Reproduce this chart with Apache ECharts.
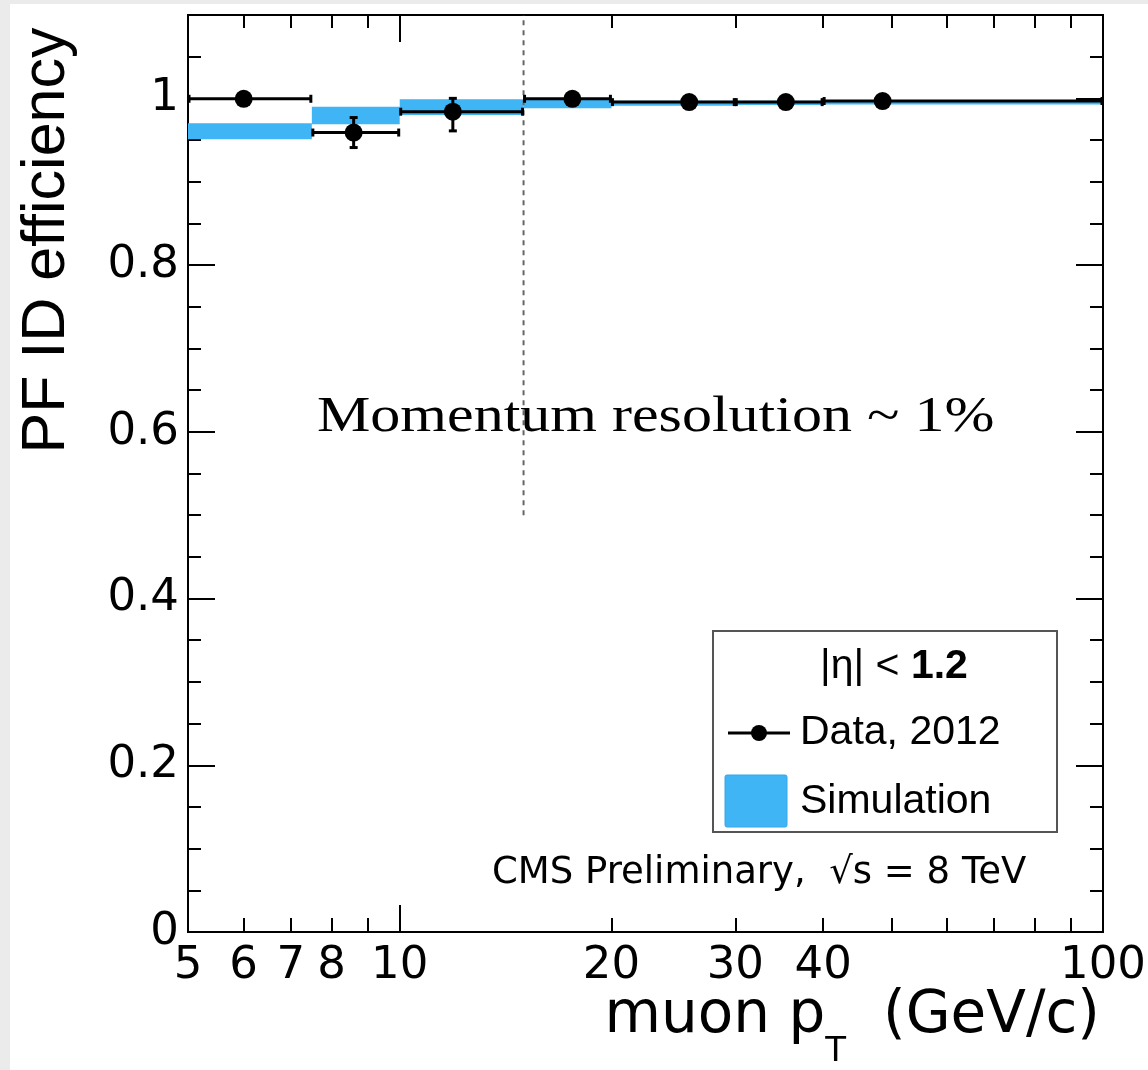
<!DOCTYPE html>
<html><head><meta charset="utf-8">
<script src="https://cdn.jsdelivr.net/npm/echarts@6/dist/echarts.min.js"></script>
<style>
html,body{margin:0;padding:0;background:#ebebeb;width:1148px;height:1070px;overflow:hidden}
#chart{position:absolute;left:10px;top:4px;width:1138px;height:1066px;background:#fff}
</style></head><body><div id="chart"></div>
<script>
// ---- data ----
const binLow   = [5, 7.5, 10, 15, 20, 30, 40];
const binHigh  = [7.5, 10, 15, 20, 30, 40, 100];
const ptMean   = [6.0, 8.6, 11.9, 17.6, 25.8, 35.4, 48.6];
const effData  = [0.9995, 0.959, 0.984, 0.9995, 0.9955, 0.9955, 0.9968];
const errDown  = [0.002, 0.018, 0.023, 0.002, 0.002, 0.002, 0.002];
const errUp    = [0.0005, 0.018, 0.016, 0.0005, 0.002, 0.002, 0.002];
const simLow   = [0.951, 0.969, 0.980, 0.988, 0.991, 0.992, 0.9925];
const simHigh  = [0.970, 0.990, 0.999, 0.999, 0.997, 0.997, 0.9975];
const xLabelTicks = [5, 6, 7, 8, 10, 20, 30, 40, 100];
const xMajorTicks = [10];
const xMinorTicks = [6, 7, 8, 9, 20, 30, 40, 50, 60, 70, 80, 90];
const yMajorTicks = [0, 0.2, 0.4, 0.6, 0.8, 1];
const yMinorTicks = [0, 0.05, 0.1, 0.15, 0.2, 0.25, 0.3, 0.35, 0.4, 0.45, 0.5, 0.55, 0.6, 0.65, 0.7, 0.75, 0.8, 0.85, 0.9, 0.95, 1, 1.05];
const xRange = [5, 100];
const yRange = [0, 1.1];
const dividerX = 15;
const dividerY = [0.5, 1.1];

const BLUE = '#3fb5f5';
const SANS = '"Liberation Sans", Arial, sans-serif';
const WIDE = '"DejaVu Sans", sans-serif';

const lg = v => Math.log10(v);
const lgMin = lg(xRange[0]), lgMax = lg(xRange[1]);

function tickAxisX(pos, ticks, len, labels) {
  return {
    type: 'value', position: pos, min: lgMin, max: lgMax, gridIndex: 0,
    axisLine: {show: false}, splitLine: {show: false},
    axisTick: ticks ? {show: true, inside: true, length: len, customValues: ticks.map(lg),
               lineStyle: {color: '#000', width: 2}} : {show: false},
    axisLabel: labels ? {show: true, customValues: labels.map(lg), margin: 12,
               formatter: v => String(Math.round(Math.pow(10, v))),
               fontSize: 45, fontFamily: WIDE, color: '#000'} : {show: false}
  };
}
function tickAxisY(pos, ticks, len, labels) {
  return {
    type: 'value', position: pos, min: yRange[0], max: yRange[1], gridIndex: 0,
    axisLine: {show: false}, splitLine: {show: false},
    axisTick: {show: true, inside: true, length: len, customValues: ticks,
               lineStyle: {color: '#000', width: 2}},
    axisLabel: labels ? {show: true, customValues: labels, margin: 9,
               fontSize: 45, fontFamily: WIDE, color: '#000'} : {show: false}
  };
}

const simData = binLow.map((l, i) => [l, binHigh[i], simLow[i], simHigh[i]]);
const errData = binLow.map((l, i) => [l, binHigh[i], ptMean[i], effData[i], effData[i] - errDown[i], effData[i] + errUp[i]]);
const ptsData = ptMean.map((x, i) => [x, effData[i]]);

const yAxisLeft = tickAxisY('left', yMajorTicks, 27, yMajorTicks);
Object.assign(yAxisLeft, {
  name: 'PF ID efficiency', nameLocation: 'middle', nameGap: 110, nameRotate: 90,
  nameMoveOverlap: false,
  nameTextStyle: {fontSize: 61, fontFamily: SANS, color: '#000', padding: [0, 0, 0, 466]}
});

const chart = echarts.init(document.getElementById('chart'), null, {renderer: 'canvas'});
chart.setOption({
  animation: false,
  backgroundColor: '#fff',
  grid: {left: 178, top: 11, width: 915, height: 917, show: true, borderColor: '#000',
         borderWidth: 2, backgroundColor: 'transparent', containLabel: false, outerBoundsMode: 'none'},
  xAxis: [
    {type: 'log', logBase: 10, min: xRange[0], max: xRange[1], position: 'bottom',
     axisLine: {show: false}, axisTick: {show: false}, axisLabel: {show: false},
     splitLine: {show: false}, minorTick: {show: false},
     name: '{a|muon p}{s|T}{a|  (GeV/c)}', nameLocation: 'end', nameGap: -3,
     nameMoveOverlap: false,
     nameTextStyle: {align: 'right', verticalAlign: 'top', padding: [33, 0, 0, 0],
       fontSize: 58, fontFamily: WIDE, color: '#000',
       rich: {a: {fontSize: 58, fontFamily: WIDE, color: '#000', verticalAlign: 'middle'},
              s: {fontSize: 34, fontFamily: WIDE, color: '#000', verticalAlign: 'middle', padding: [70, 0, 0, 0]}}}},
    tickAxisX('bottom', null, 0, xLabelTicks),
    tickAxisX('bottom', xMinorTicks, 14, null),
    tickAxisX('bottom', xMajorTicks, 27, null),
    tickAxisX('top', xMajorTicks, 27, null),
    tickAxisX('top', xMinorTicks, 13, null)
  ],
  yAxis: [
    yAxisLeft,
    tickAxisY('left', yMinorTicks, 13, null),
    tickAxisY('right', yMajorTicks, 27, null),
    tickAxisY('right', yMinorTicks, 13, null)
  ],
  series: [
    {type: 'custom', name: 'Simulation', xAxisIndex: 0, yAxisIndex: 0, data: simData,
     encode: {x: [0, 1], y: [2, 3]}, silent: true, z: 2,
     renderItem: (params, api) => {
       const a = api.coord([api.value(0), api.value(3)]);
       const b = api.coord([api.value(1), api.value(2)]);
       return {type: 'rect', shape: {x: a[0], y: a[1], width: b[0] - a[0], height: b[1] - a[1]},
               style: {fill: BLUE}};
     }},
    {type: 'line', name: 'divider', xAxisIndex: 0, yAxisIndex: 0, silent: true, z: 3,
     data: [[dividerX, dividerY[0]], [dividerX, dividerY[1]]], symbol: 'none',
     lineStyle: {color: '#666', width: 2, type: [5, 5]}},
    {type: 'custom', name: 'Data errors', xAxisIndex: 0, yAxisIndex: 0, data: errData,
     encode: {x: [0, 1, 2], y: [3, 4, 5]}, silent: true, z: 4,
     renderItem: (params, api) => {
       const l = api.coord([api.value(0), api.value(3)]);
       const r = api.coord([api.value(1), api.value(3)]);
       const lo = api.coord([api.value(2), api.value(4)]);
       const hi = api.coord([api.value(2), api.value(5)]);
       const st = {stroke: '#000', lineWidth: 3};
       const cap = 4;
       return {type: 'group', children: [
         {type: 'line', shape: {x1: l[0], y1: l[1], x2: r[0], y2: r[1]}, style: st},
         {type: 'line', shape: {x1: l[0] + 1, y1: l[1] - cap, x2: l[0] + 1, y2: l[1] + cap}, style: st},
         {type: 'line', shape: {x1: r[0] - 1, y1: r[1] - cap, x2: r[0] - 1, y2: r[1] + cap}, style: st},
         {type: 'line', shape: {x1: lo[0], y1: lo[1], x2: hi[0], y2: hi[1]}, style: st},
         {type: 'line', shape: {x1: lo[0] - cap, y1: lo[1], x2: lo[0] + cap, y2: lo[1]}, style: st},
         {type: 'line', shape: {x1: hi[0] - cap, y1: hi[1], x2: hi[0] + cap, y2: hi[1]}, style: st}
       ]};
     }},
    {type: 'scatter', name: 'Data, 2012', xAxisIndex: 0, yAxisIndex: 0, data: ptsData,
     symbol: 'circle', symbolSize: 18, itemStyle: {color: '#000', opacity: 1}, silent: true, z: 5}
  ],
  graphic: [
    {type: 'text', x: 307, y: 414, scaleX: 1.2, z: 20,
     style: {text: 'Momentum resolution ~ 1%', fontSize: 50, fontFamily: '"Liberation Serif", "Times New Roman", serif',
             fill: '#000', align: 'left', verticalAlign: 'middle'}},
    {type: 'rect', z: 20, shape: {x: 703, y: 627, width: 344, height: 201},
     style: {fill: '#fff', stroke: '#555', lineWidth: 2}},
    {type: 'text', x: 884, y: 663, z: 21,
     style: {text: '{n||\u03b7| < }{b|1.2}', align: 'center', verticalAlign: 'middle', fill: '#000',
             fontSize: 41, fontFamily: SANS,
             rich: {n: {fontSize: 41, fontFamily: SANS, fill: '#000'},
                    b: {fontSize: 41, fontFamily: SANS, fontWeight: 'bold', fill: '#000'}}}},
    {type: 'line', z: 21, shape: {x1: 718, y1: 729, x2: 780, y2: 729}, style: {stroke: '#000', lineWidth: 3}},
    {type: 'circle', z: 21, shape: {cx: 749, cy: 729, r: 8}, style: {fill: '#000'}},
    {type: 'text', x: 790, y: 729, z: 21,
     style: {text: 'Data, 2012', fontSize: 41, fontFamily: SANS, fill: '#000', align: 'left', verticalAlign: 'middle'}},
    {type: 'rect', z: 21, shape: {x: 715, y: 771, width: 62, height: 52, r: 2},
     style: {fill: BLUE, stroke: '#36a6ea', lineWidth: 1}},
    {type: 'text', x: 790, y: 798, z: 21,
     style: {text: 'Simulation', fontSize: 41, fontFamily: SANS, fill: '#000', align: 'left', verticalAlign: 'middle'}},
    {type: 'text', x: 482, y: 869, z: 21,
     style: {text: 'CMS Preliminary,  \u221As = 8 TeV', fontSize: 37, fontFamily: WIDE, fill: '#000',
             align: 'left', verticalAlign: 'middle'}}
  ]
});
</script></body></html>
